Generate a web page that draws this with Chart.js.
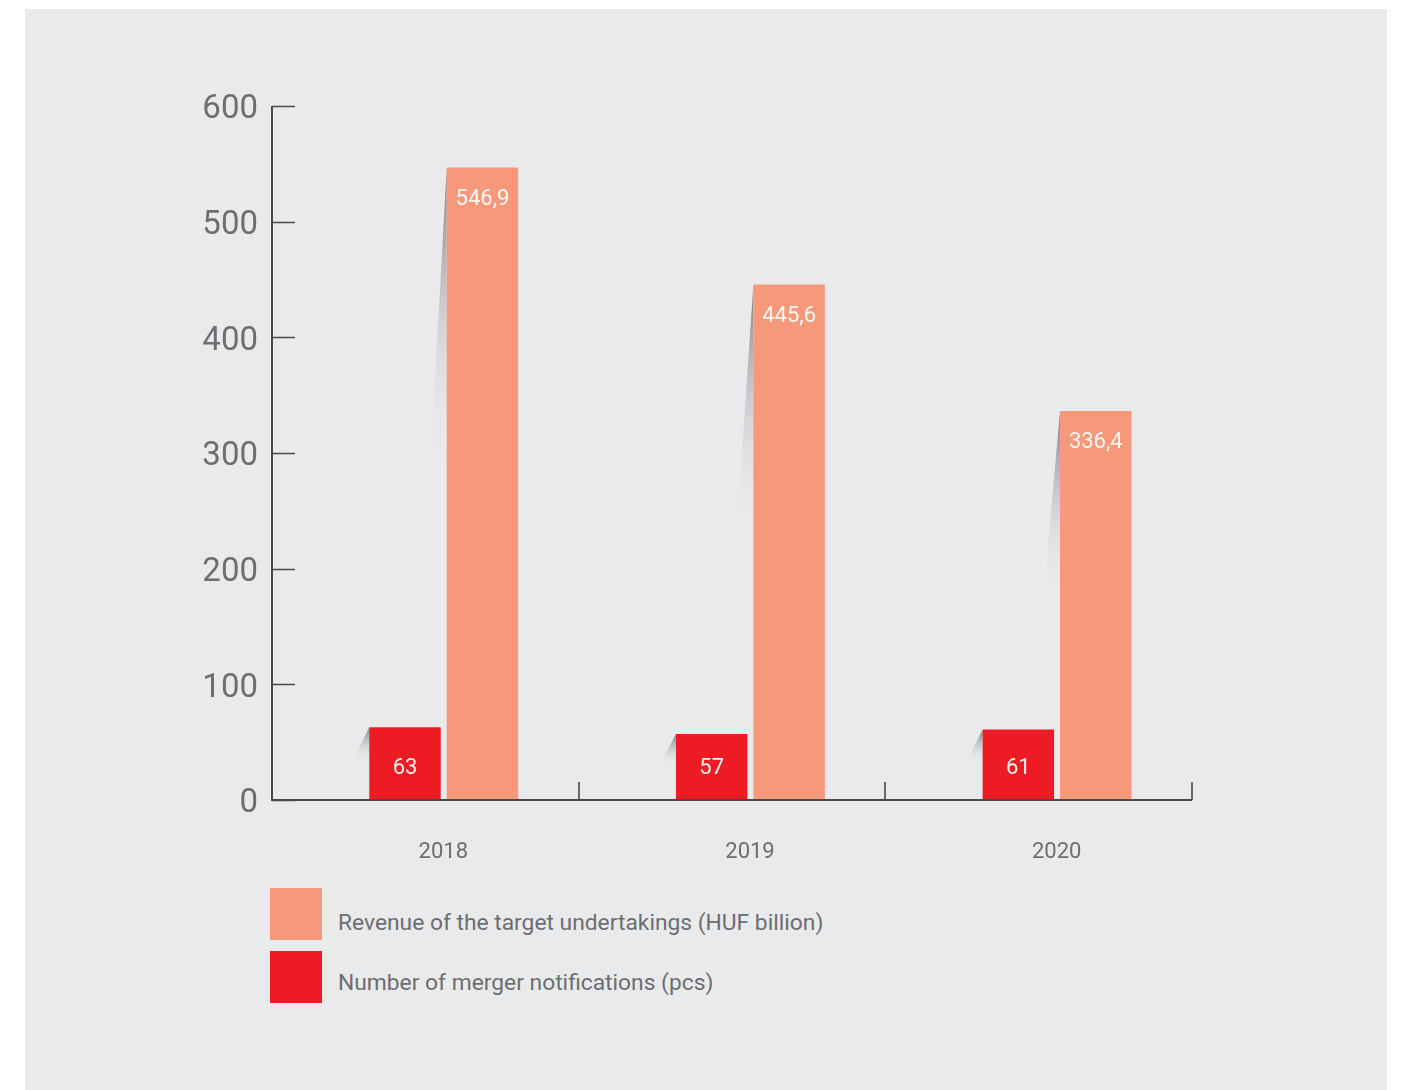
<!DOCTYPE html>
<html>
<head>
<meta charset="utf-8">
<script src="https://cdn.jsdelivr.net/npm/chart.js@4/dist/chart.umd.min.js"></script>
<style>
  body { margin: 0; background: #ffffff; font-family: Roboto, sans-serif; }
  #panel { position: absolute; left: 25px; top: 9px; width: 1362px; height: 1081px; background: #e9eaec; }
  #chart-box { position: absolute; left: 0; top: 0; width: 1362px; height: 870px; }
  .legend-row { position: absolute; left: 245px; display: flex; align-items: center; }
  .legend-box { width: 52px; height: 52px; }
  .legend-text { margin-left: 16px; font-size: 22.8px; color: #6d6e71; position: relative; }
</style>
</head>
<body>
<div id="panel">
  <div id="chart-box"><canvas id="chart"></canvas></div>
  <div class="legend-row" style="top: 879px;">
    <div class="legend-box" id="legend-box-revenue"></div>
    <div class="legend-text" id="legend-text-revenue" style="top: 8px;"></div>
  </div>
  <div class="legend-row" style="top: 942px;">
    <div class="legend-box" id="legend-box-count"></div>
    <div class="legend-text" id="legend-text-count" style="top: 5px;"></div>
  </div>
</div>
<script>
"use strict";

const years = ["2018", "2019", "2020"];
const notificationCounts = [63, 57, 61];
const targetRevenues = [546.9, 445.6, 336.4];
const countLabel = "Number of merger notifications (pcs)";
const revenueLabel = "Revenue of the target undertakings (HUF billion)";

const red = "#ed1c24";
const orange = "#f6987a";
const axisColor = "#4a4a4c";
const textColor = "#6d6e71";

// bars sit a little right of the category centre in the original
const barShift = 0.06;

/** @type {(chart: any) => number} */
const shiftOf = (chart) => (chart.scales.x.width / years.length) * barShift;

const formatValue = (v) => (Number.isInteger(v) ? String(v) : v.toFixed(1).replace(".", ","));

const barShadows = {
  id: "barShadows",
  beforeDatasetsDraw: (chart) => {
    const { ctx } = chart;
    ctx.save();
    ctx.translate(shiftOf(chart), 0);
    chart.data.datasets.forEach((_, di) => {
      chart.getDatasetMeta(di).data.forEach((bar) => {
        const left = bar.x - bar.width / 2;
        const len = (bar.base - bar.y) * 0.46;
        const grad = ctx.createLinearGradient(0, bar.y, 0, bar.y + len);
        grad.addColorStop(0, "rgba(105, 106, 110, 0.85)");
        grad.addColorStop(0.5, "rgba(170, 172, 176, 0.45)");
        grad.addColorStop(1, "rgba(233, 234, 236, 0)");
        ctx.beginPath();
        ctx.moveTo(left, bar.y);
        ctx.lineTo(left - 16, bar.y + len);
        ctx.lineTo(left, bar.y + len);
        ctx.closePath();
        ctx.fillStyle = grad;
        ctx.fill();
      });
    });
    ctx.restore();
    // shift the bars themselves
    ctx.save();
    ctx.translate(shiftOf(chart), 0);
  },
  afterDatasetsDraw: (chart) => {
    const { ctx } = chart;
    ctx.restore();

    ctx.save();
    ctx.translate(shiftOf(chart), 0);
    ctx.font = "22px Roboto";
    ctx.fillStyle = "rgba(255, 255, 255, 0.92)";
    ctx.textAlign = "center";
    ctx.textBaseline = "middle";
    chart.data.datasets.forEach((ds, di) => {
      chart.getDatasetMeta(di).data.forEach((bar, i) => {
        const y = di === 0 ? bar.base - 32 : bar.y + 32;
        ctx.fillText(formatValue(ds.data[i]), bar.x, y);
      });
    });
    ctx.restore();

    // axes: ticks point into the plot
    const { x: xs, y: ys } = chart.scales;
    const area = chart.chartArea;
    ctx.save();
    ctx.strokeStyle = axisColor;
    ctx.lineWidth = 2;
    ctx.beginPath();
    ctx.moveTo(area.left, area.top);
    ctx.lineTo(area.left, area.bottom);
    ctx.lineTo(area.right, area.bottom);
    ctx.stroke();
    ctx.lineWidth = 1.6;
    ctx.beginPath();
    ys.ticks.forEach((t) => {
      const py = Math.round(ys.getPixelForValue(t.value)) + 0.5;
      ctx.moveTo(area.left, py);
      ctx.lineTo(area.left + 23, py);
    });
    const step = xs.width / years.length;
    for (let i = 1; i <= years.length; i++) {
      const px = Math.round(area.left + step * i);
      ctx.moveTo(px, area.bottom);
      ctx.lineTo(px, area.bottom - 18);
    }
    ctx.stroke();
    ctx.restore();
  },
};

const main = () => {
  const canvas = document.getElementById("chart");
  if (!(canvas instanceof HTMLCanvasElement)) throw new Error();

  document.getElementById("legend-box-revenue").style.background = orange;
  document.getElementById("legend-text-revenue").textContent = revenueLabel;
  document.getElementById("legend-box-count").style.background = red;
  document.getElementById("legend-text-count").textContent = countLabel;

  new Chart(canvas, {
    type: "bar",
    data: {
      labels: years,
      datasets: [
        { label: countLabel, data: notificationCounts, backgroundColor: red },
        { label: revenueLabel, data: targetRevenues, backgroundColor: orange },
      ],
    },
    options: {
      responsive: true,
      maintainAspectRatio: false,
      animation: false,
      datasets: { bar: { categoryPercentage: 0.505, barPercentage: 0.923 } },
      layout: { padding: { left: 147, top: 97, right: 195, bottom: 9 } },
      plugins: { legend: { display: false }, tooltip: { enabled: false } },
      scales: {
        x: {
          grid: { display: false },
          border: { display: false },
          afterFit: (s) => { s.height = 70; },
          ticks: {
            padding: 31,
            labelOffset: 18,
            color: textColor,
            font: { family: "Roboto", size: 22 },
          },
        },
        y: {
          min: 0,
          max: 600,
          grid: { display: false },
          border: { display: false },
          afterFit: (s) => { s.width = 100; },
          ticks: {
            stepSize: 100,
            padding: 6,
            labelOffset: 4,
            color: textColor,
            font: { family: "Roboto", size: 33 },
          },
        },
      },
    },
    plugins: [barShadows],
  });
};

main();
</script>
</body>
</html>
